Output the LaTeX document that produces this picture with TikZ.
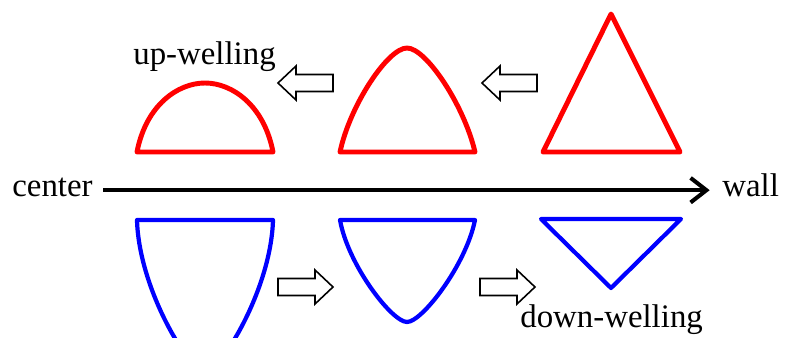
\documentclass[tikz,border=0pt]{standalone}
\usepackage{fontspec}
\setmainfont{Liberation Serif}
\usetikzlibrary{arrows.meta}
\definecolor{upred}{HTML}{FF0000}
\definecolor{downblue}{HTML}{0000FF}

\begin{document}
\begin{tikzpicture}[x=0.02cm,y=-0.02cm,
    lbl/.style={font=\fontsize{18.7}{22}\selectfont,inner sep=0pt,anchor=base west},
    upshape/.style={upred,line width=2.8pt,line join=round},
    downshape/.style={downblue,line width=2.4pt,line join=round},
    blockarr/.style={draw=black,line width=0.9pt,fill=white,line join=miter}]
  \useasboundingbox (0,0) rectangle (796,338);
  \clip (0,0) rectangle (796,338);

  % labels
  \node[lbl] (center) at (12,196) {center};
  \node[lbl] (wall) at (722,196) {wall};
  \node[lbl] (up) at (133,65) {up-welling};
  \node[lbl] (down) at (520,327) {down-welling};

  % axis from center to wall
  \draw[line width=2.3pt,-{Straight Barb[length=9pt,width=14pt,line width=2.3pt]}]
    ([xshift=6pt,yshift=0.33em]center.base east) -- ([xshift=-7pt,yshift=0.33em]wall.base west);

  % up-welling shapes (red)
  \draw[upshape] (137,152) .. controls (146,105) and (178,83) .. (205,83)
    .. controls (232,83) and (264,105) .. (273,152) -- cycle;
  \draw[upshape] (340,152) .. controls (350,105) and (388,48) .. (407,48)
    .. controls (426,48) and (464,105) .. (475,152) -- cycle;
  \draw[upshape] (543,152) -- (611,14) -- (680,152) -- cycle;

  % down-welling shapes (blue)
  \draw[downshape] (137,220) .. controls (139,290) and (190,372) .. (205,372)
    .. controls (220,372) and (271,290) .. (273,220) -- cycle;
  \draw[downshape] (340,220) .. controls (348,265) and (392,322) .. (407,322)
    .. controls (422,322) and (466,265) .. (475,220) -- cycle;
  \draw[downshape] (541,219) -- (611,288) -- (681,219) -- cycle;

  % block arrows
  \foreach \tx/\ty/\dir in {278/83/1, 482/83/1, 333/287/-1, 535/287/-1}
    \draw[blockarr,shift={(\tx,\ty)},xscale=\dir]
      (0,0) -- (18,-17) -- (18,-8.5) -- (55,-8.5) -- (55,8.5) -- (18,8.5) -- (18,17) -- cycle;
\end{tikzpicture}
\end{document}
